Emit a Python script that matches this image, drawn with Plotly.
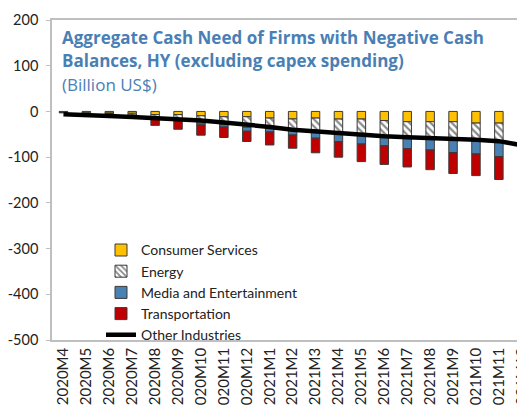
import plotly.graph_objects as go

months = ["2020M4", "2020M5", "2020M6", "2020M7", "2020M8", "2020M9", "2020M10",
          "2020M11", "2020M12", "2021M1", "2021M2", "2021M3", "2021M4", "2021M5",
          "2021M6", "2021M7", "2021M8", "2021M9", "2021M10", "2021M11", "2021M12"]

consumer_services = [-1, -3, -3.5, -4, -7, -7, -9.5, -11.6, -11.6, -14.5, -16.5,
                     -14.5, -16.7, -16.7, -20, -22.5, -22.5, -22.5, -25.5, -25.5, -29]
energy = [-1, -1.5, -2, -4, -8, -13, -16, -17.5, -23, -22.5, -24,
          -31, -32.7, -35, -33.4, -35, -36.4, -37, -37.8, -40, -41.4]
media = [-0.5, -0.5, -0.5, -1, -1, -2, -4, -5, -8.7, -8, -11,
         -13, -16.7, -19.6, -21.8, -24, -25.5, -30.5, -29.8, -33.4, -38.5]
transportation = [-0.5, -0.5, -1, -4, -14.5, -17, -22.5, -22.9, -22.5, -28.4, -29,
                  -32, -34, -38.5, -40.7, -40, -43, -45.8, -47.3, -50, -48.7]
other_industries = [-6, -7, -10, -12, -14.5, -16.5, -20, -24, -28, -34, -40,
                    -44, -48.5, -51.5, -54.5, -56.5, -58, -60, -62, -65, -74]

y_ticks = [-500, -400, -300, -200, -100, 0, 100, 200]
y_ticktext = ["-500", "-400", "-300", "-200", "-100", "0", "100", "200"]

title_lines = ["<b>Aggregate Cash Need of Firms with Negative Cash</b>",
               "<b>Balances, HY (excluding capex spending)</b>",
               "(Billion US$)"]

FONT = "Lato"
TITLE_FONT = "Open Sans"
GRID = "#BFBFBF"
EDGE = "#3a3a3a"
TITLE_COLOR = "#4A7FB5"

fig = go.Figure()
fig.add_bar(x=months, y=consumer_services, name="Consumer Services",
            marker=dict(color="#FFC000", line=dict(color=EDGE, width=1)))
fig.add_bar(x=months, y=energy, name="Energy",
            marker=dict(color="white", line=dict(color=EDGE, width=1),
                        pattern=dict(shape="\\", fgcolor="#8a8a8a", bgcolor="white",
                                     size=5, solidity=0.45, fillmode="replace")))
fig.add_bar(x=months, y=media, name="Media and Entertainment",
            marker=dict(color="#4A81B3", line=dict(color=EDGE, width=1)))
fig.add_bar(x=months, y=transportation, name="Transportation",
            marker=dict(color="#C00000", line=dict(color=EDGE, width=1)))
fig.add_scatter(x=months, y=other_industries, name="Other Industries", mode="lines",
                line=dict(color="black", width=4.5))

# title lines: vertical centres in the plot's paper coordinates
title_y = [0.944, 0.875, 0.797]
annotations = [dict(xref="paper", yref="paper", x=8 / 473, y=ty, xanchor="left",
                    yanchor="middle", align="left", showarrow=False, text=tx,
                    font=dict(size=17, family=TITLE_FONT, color=TITLE_COLOR))
               for tx, ty in zip(title_lines, title_y)]

xr = [-0.5, 20.14]
fig.update_layout(
    width=517, height=398,
    margin=dict(l=44, r=0, t=12, b=66),
    plot_bgcolor="white", paper_bgcolor="white",
    barmode="relative", bargap=0.63,
    font=dict(family=FONT, color="#222222"),
    xaxis=dict(type="category", range=xr, showline=True, mirror=True,
               linecolor=GRID, linewidth=1.5, ticks="", tickangle=-90,
               tickfont=dict(size=15, family=FONT, color="#222222"),
               showgrid=False, automargin=False),
    xaxis2=dict(overlaying="x", anchor="free", position=500 / 700, type="linear",
                range=xr, tickvals=[i + 0.5 for i in range(len(months) - 1)],
                ticks="inside", ticklen=5, tickcolor=GRID, tickwidth=1,
                showline=True, linecolor=GRID, linewidth=1.5,
                showticklabels=False, showgrid=False, zeroline=False),
    yaxis=dict(range=[-500, 200], tickvals=y_ticks, ticktext=y_ticktext,
               ticks="outside", ticklen=4, tickcolor=GRID, showline=True,
               linecolor=GRID, linewidth=1.5, showgrid=False, zeroline=False,
               tickfont=dict(size=14.5, family=FONT, color="#222222"),
               ticklabelstandoff=5, automargin=False),
    legend=dict(x=0.1036, y=0.330, xanchor="left", yanchor="top",
                traceorder="normal", tracegroupgap=0,
                font=dict(size=14, family=FONT, color="#222222"),
                bgcolor="rgba(0,0,0,0)"),
    annotations=annotations,
)

fig.write_html("out.html")
